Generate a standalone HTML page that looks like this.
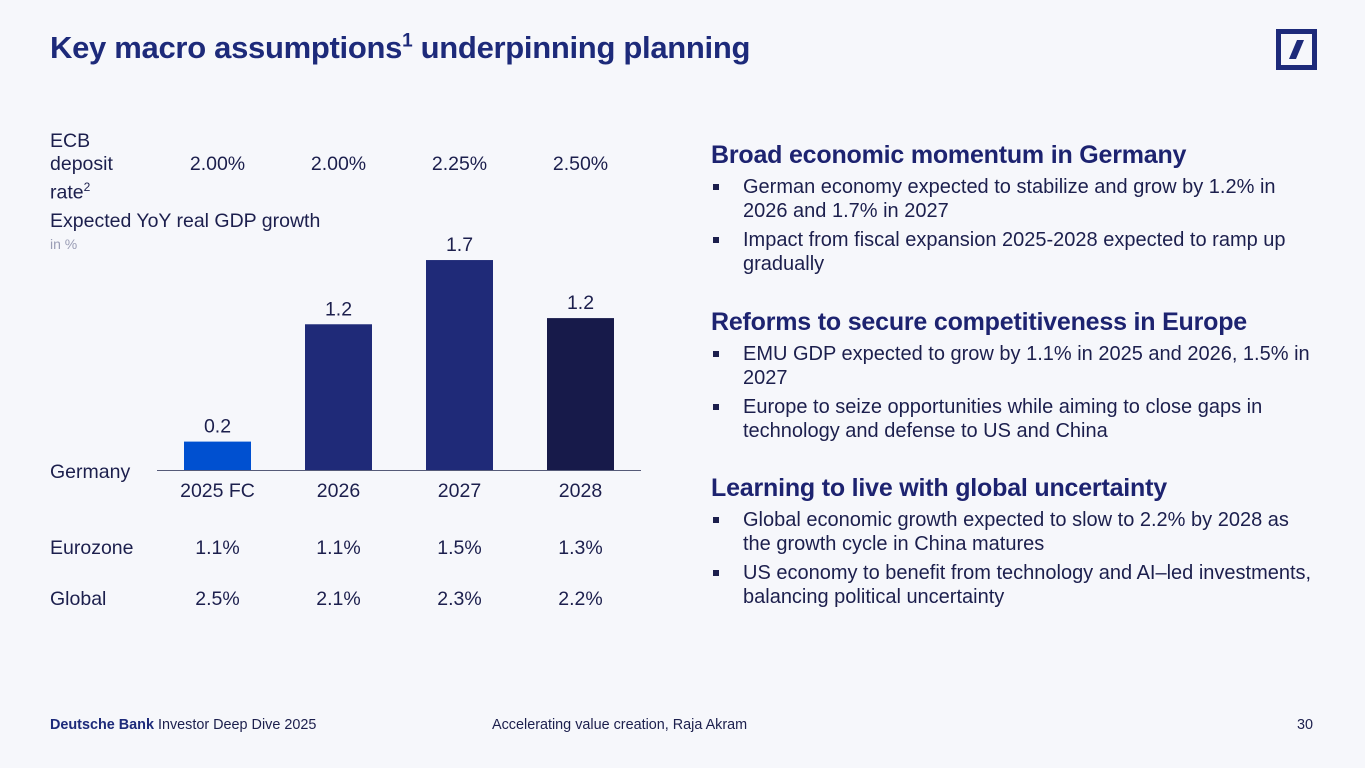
<!DOCTYPE html>
<html><head><meta charset="utf-8"><style>
body{margin:0;width:1365px;height:768px;background:#f6f7fb;font-family:"Liberation Sans",sans-serif;color:#1c1f4d;position:relative;overflow:hidden}
.a{position:absolute;white-space:nowrap}
h1{position:absolute;left:50px;top:30px;margin:0;font-size:31px;font-weight:bold;color:#1d2a7a;letter-spacing:-0.3px}
.t{font-size:19.5px}
h2{position:absolute;margin:0;font-size:25px;font-weight:bold;color:#1d2370;letter-spacing:-0.2px}
ul{position:absolute;margin:0;padding:0;list-style:none;font-size:20px;line-height:24px;width:610px}
li{position:relative;padding-left:32px;margin-bottom:5px}
li:before{content:"";position:absolute;left:2px;top:9px;width:6px;height:6px;background:#1c1f4d}
</style></head><body>
<h1>Key macro assumptions<sup style="font-size:19px">1</sup> underpinning planning</h1>
<svg class="a" style="left:1276px;top:29px" width="41" height="41"><rect x="2.5" y="2.5" width="36" height="36" fill="none" stroke="#1d2a7a" stroke-width="5"/><polygon points="13,30 20,30 28,11 21,11" fill="#1d2a7a"/></svg>

<div class="a t" style="left:50px;top:130px;line-height:23px;white-space:normal;width:80px">ECB<br>deposit<br>rate<sup style="font-size:12px">2</sup></div>
<div class="a t" style="left:50px;top:210px">Expected YoY real GDP growth</div>
<div class="a" style="left:50px;top:236px;font-size:14px;color:#9a9db5">in %</div>
<div class="a t" style="left:50px;top:461px">Germany</div>
<div class="a t" style="left:50px;top:537px">Eurozone</div>
<div class="a t" style="left:50px;top:588px">Global</div>
<svg id="chart" class="a" style="left:0;top:0" width="680" height="640"></svg>

<h2 style="left:711px;top:141px">Broad economic momentum in Germany</h2>
<ul style="left:711px;top:175px">
<li>German economy expected to stabilize and grow by 1.2% in 2026 and 1.7% in 2027</li>
<li>Impact from fiscal expansion 2025-2028 expected to ramp up gradually</li></ul>
<h2 style="left:711px;top:308px">Reforms to secure competitiveness in Europe</h2>
<ul style="left:711px;top:342px">
<li>EMU GDP expected to grow by 1.1% in 2025 and 2026, 1.5% in 2027</li>
<li>Europe to seize opportunities while aiming to close gaps in technology and defense to US and China</li></ul>
<h2 style="left:711px;top:474px">Learning to live with global uncertainty</h2>
<ul style="left:711px;top:508px">
<li>Global economic growth expected to slow to 2.2% by 2028 as the growth cycle in China matures</li>
<li>US economy to benefit from technology and AI–led investments, balancing political uncertainty</li></ul>

<div class="a" style="left:50px;top:717px;font-size:14.4px"><b style="color:#1d2a7a">Deutsche Bank</b> Investor Deep Dive 2025</div>
<div class="a" style="left:492px;top:717px;font-size:14.4px">Accelerating value creation, Raja Akram</div>
<div class="a" style="left:1297px;top:717px;font-size:14.4px">30</div>
<script>
const categories=["2025 FC","2026","2027","2028"];
const germany=[0.23,1.18,1.7,1.23];
const germanyLabels=["0.2","1.2","1.7","1.2"];
const ecb=["2.00%","2.00%","2.25%","2.50%"];
const eurozone=["1.1%","1.1%","1.5%","1.3%"];
const global=["2.5%","2.1%","2.3%","2.2%"];
const colors=["#0050d0","#1f2a78","#1f2a78","#171a4a"];
const NS="http://www.w3.org/2000/svg",svg=document.getElementById('chart');
const x0=157,step=121,bw=67,base=470,scale=123.5;
const xc=i=>x0+60.5+i*step, y=v=>base-v*scale;
function txt(s,x,yy,name){const t=document.createElementNS(NS,'text');t.setAttribute('x',x);t.setAttribute('y',yy);t.setAttribute('text-anchor','middle');t.setAttribute('font-size','19.5');t.setAttribute('fill','#1c1f4d');t.setAttribute('font-family','Liberation Sans, sans-serif');t.textContent=s;


svg.appendChild(t);}
categories.forEach((c,i)=>{
const r=document.createElementNS(NS,'rect');
r.setAttribute('x',xc(i)-bw/2);r.setAttribute('y',y(germany[i]));r.setAttribute('width',bw);r.setAttribute('height',base-y(germany[i]));r.setAttribute('fill',colors[i]);


svg.appendChild(r);
txt(germanyLabels[i],xc(i),y(germany[i])-9,'value-label');
txt(c,xc(i),497,'x-tick-label');
txt(ecb[i],xc(i),170,'ecb-value');
txt(eurozone[i],xc(i),554,'eurozone-value');
txt(global[i],xc(i),605,'global-value');
});
const l=document.createElementNS(NS,'line');l.setAttribute('x1',157);l.setAttribute('x2',641);l.setAttribute('y1',base+0.5);l.setAttribute('y2',base+0.5);l.setAttribute('stroke','#555a78');


svg.appendChild(l);
</script>
</body></html>
